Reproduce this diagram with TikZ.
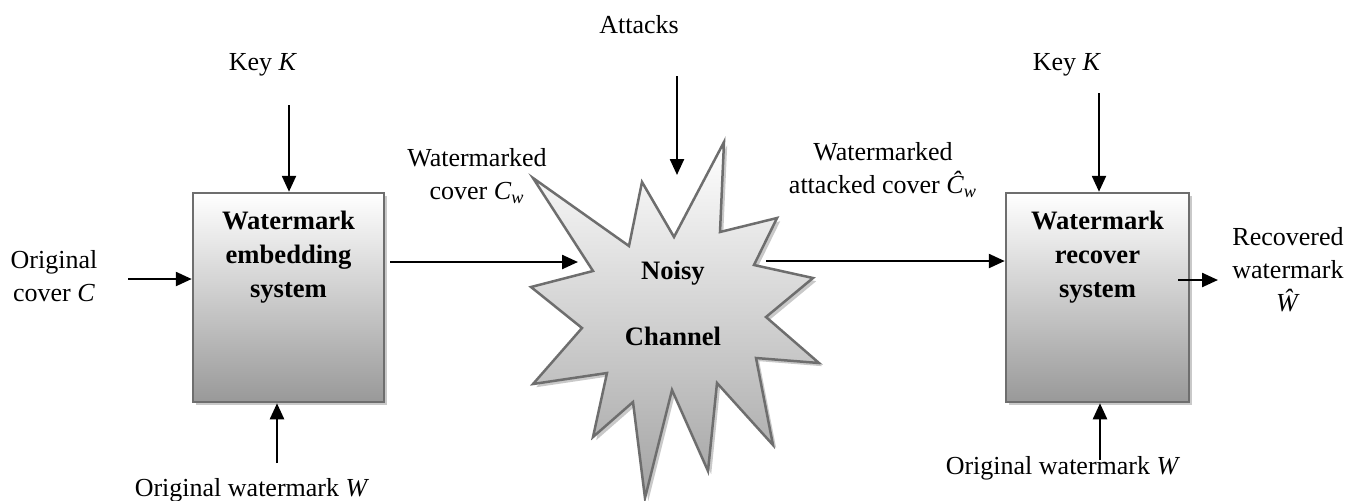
\documentclass[tikz,border=0pt]{standalone}
\usepackage{fontspec}
\setmainfont{Liberation Serif}
\usetikzlibrary{arrows.meta,calc,shadows}

\definecolor{edgegray}{HTML}{6E6E6E}
\definecolor{fillgray}{HTML}{999999}
\definecolor{stargray}{HTML}{A3A3A3}
\definecolor{shadowgray}{HTML}{C9C9C9}

\begin{document}
\begin{tikzpicture}[x=0.5pt,y=-0.5pt,
  lbl/.style={font=\fontsize{13}{16.5}\selectfont, align=center, inner sep=0pt},
  boxtext/.style={font=\fontsize{13.3}{17}\selectfont\bfseries, align=center, inner sep=0pt},
  block/.style={draw=edgegray, line width=1.25pt, top color=white, bottom color=fillgray,
    minimum height=104.5pt, inner sep=0pt,
    drop shadow={shadow xshift=1.6pt, shadow yshift=-1.6pt, fill=shadowgray, opacity=1}},
  burst/.style={draw=edgegray, line width=1.25pt, line join=miter, top color=white, bottom color=stargray,
    drop shadow={shadow xshift=1.6pt, shadow yshift=-1.6pt, fill=shadowgray, opacity=1}},
  arr/.style={-{Triangle[length=8pt,width=7pt]}, line width=1.2pt, black}
]
\useasboundingbox (0,0) rectangle (1362,500);

% embedding and recovery blocks
\node[block, minimum width=95.5pt] (lbox) at (288.5,297.5) {};
\node[block, minimum width=91.5pt] (rbox) at (1097.5,297.5) {};
\node[boxtext, anchor=north] at ([yshift=-9.5pt]lbox.north) {Watermark\\embedding\\system};
\node[boxtext, anchor=north] at ([yshift=-9.5pt]rbox.north) {Watermark\\recover\\system};

% noisy channel burst
\path[burst] (533,178) -- (629,246) -- (642,182) -- (674,237) -- (724,142) -- (720,232)
  -- (777,218) -- (754,265) -- (813,278) -- (766,317) -- (819,363) -- (756,358)
  -- (773,445) -- (717,383) -- (708,471) -- (672,390) -- (645,498) -- (633,402)
  -- (593,437) -- (607,373) -- (533,384) -- (582,328) -- (531,287) -- (593,271) -- cycle;
\node[font=\fontsize{13.3}{33}\selectfont\bfseries, align=center, inner sep=0pt] (noisy) at (673,303) {Noisy\\Channel};

% labels
\node[lbl] (keyL) at (263,65) {Key \textit{K}};
\node[lbl] (keyR) at (1067,65) {Key \textit{K}};
\node[lbl] (atk) at (639,25) {Attacks};
\node[lbl] (cover) at (54,276) {Original\\cover \textit{C}};
\node[lbl] (wcov) at (477,176) {Watermarked\\cover \textit{C}\textsubscript{\textit{w}}};
\node[lbl] (wacov) at (883,170) {Watermarked\\attacked cover \textit{Ĉ}\textsubscript{\textit{w}}};
\node[lbl] (rec) at (1288,270) {Recovered\\watermark\\\textit{Ŵ}};
\node[lbl] (wmL) at (252,490) {Original watermark \textit{W}};
\node[lbl] (wmR) at (1063,468) {Original watermark \textit{W}};

% connector ends
\coordinate (kLt) at (289,105);
\coordinate (kRt) at (1099,93);
\coordinate (atkt) at (677,76);
\coordinate (atkh) at (677,175);
\coordinate (wLt) at (277,463);
\coordinate (wRt) at (1100,460);
\coordinate (cint) at (128,279);
\coordinate (embt) at (390,262);
\coordinate (cwin) at (578,262);
\coordinate (cwout) at (766,261);
\coordinate (outt) at (1178,280);
\coordinate (outh) at (1218,280);

% connectors
\draw[arr] (kLt) -- (kLt |- lbox.north);
\draw[arr] (kRt) -- (kRt |- rbox.north);
\draw[arr] (atkt) -- (atkh);
\draw[arr] (wLt) -- (wLt |- lbox.south);
\draw[arr] (wRt) -- (wRt |- rbox.south);
\draw[arr] (cint) -- (cint -| lbox.west);
\draw[arr] (embt) -- (cwin);
\draw[arr] (cwout) -- (cwout -| rbox.west);
\draw[arr] (outt) -- (outh);
\end{tikzpicture}
\end{document}
